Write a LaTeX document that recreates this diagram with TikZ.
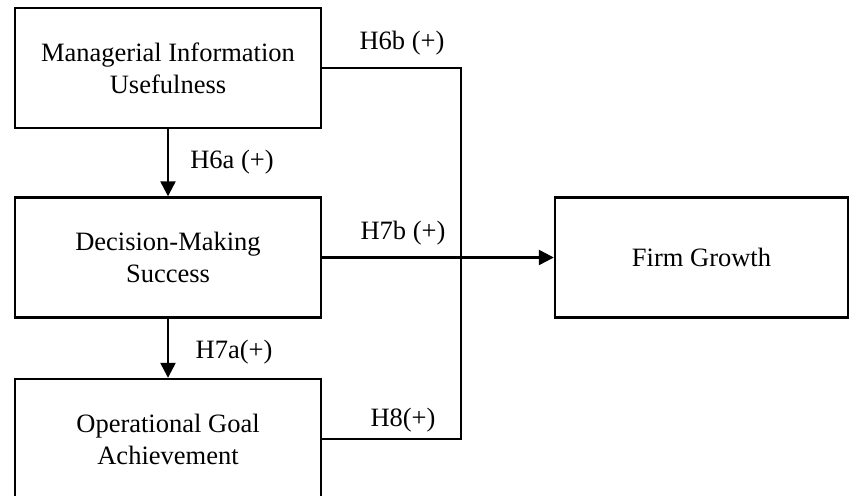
\documentclass[tikz,border=0pt]{standalone}
\usepackage{fontspec}
\setmainfont{Liberation Serif}
\usetikzlibrary{arrows.meta}
\begin{document}
\begin{tikzpicture}[x=1pt,y=-1pt,
  box/.style={draw, line width=2.4pt, minimum width=306pt, minimum height=120pt,
    align=center, inner sep=0pt, font=\fontsize{26.5}{32}\selectfont},
  lbl/.style={inner sep=0pt, font=\fontsize{26.5}{32}\selectfont},
  link/.style={line width=2.4pt},
  arr/.style={link, -{Triangle[length=15pt,width=15pt]}}]
\clip (0,0) rectangle (850,495);

% constructs
\node[box] (miu) at (168,68) {Managerial Information\\Usefulness};
\node[box] (dms) at (168,257.5) {Decision-Making\\Success};
\node[box] (oga) at (168,439) {Operational Goal\\Achievement};
\node[box, minimum width=293pt] (fg) at (701.5,257.5) {Firm Growth};

% junction of the paths into firm growth
\coordinate (jt) at (461,68);
\coordinate (jb) at (461,439);

% paths
\draw[arr] (miu.south) -- (dms.north);
\draw[arr] (dms.south) -- (oga.north);
\draw[link] (miu.east) -- (jt) -- (jb) -- (oga.east);
\draw[arr] (dms.east) -- (fg.west);

% hypothesis labels
\node[lbl] (h6a) at (232,162) {H6a (+)};
\node[lbl] (h7a) at (234,352) {H7a(+)};
\node[lbl] (h6b) at (402,43) {H6b (+)};
\node[lbl] (h7b) at (403,233) {H7b (+)};
\node[lbl] (h8) at (403,420) {H8(+)};
\end{tikzpicture}
\end{document}
